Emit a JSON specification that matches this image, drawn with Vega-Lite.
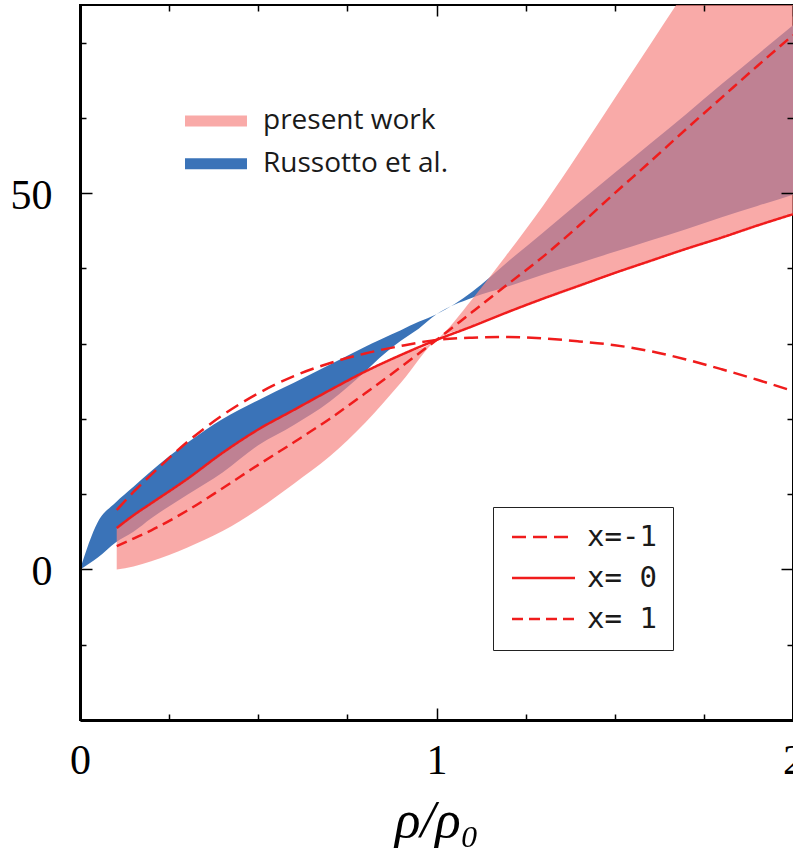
{
  "$schema": "https://vega.github.io/schema/vega-lite/v6.json",
  "width": 713,
  "height": 715,
  "autosize": {"type": "none"},
  "padding": {"left": 80, "top": 5, "right": 0, "bottom": 143},
  "background": "white",
  "config": {
    "view": {"stroke": "black", "strokeWidth": 2}
  },
  "datasets": {
    "russotto": [
      {"x": 0, "lo": 0, "hi": 0, "band": "Russotto et al."},
      {"x": 0.05, "lo": 1.6, "hi": 6.3, "band": "Russotto et al."},
      {"x": 0.1, "lo": 3.6, "hi": 8.9, "band": "Russotto et al."},
      {"x": 0.15, "lo": 5.0, "hi": 11.0, "band": "Russotto et al."},
      {"x": 0.2, "lo": 6.8, "hi": 13.1, "band": "Russotto et al."},
      {"x": 0.3, "lo": 9.9, "hi": 16.8, "band": "Russotto et al."},
      {"x": 0.4, "lo": 12.9, "hi": 20.0, "band": "Russotto et al."},
      {"x": 0.5, "lo": 16.5, "hi": 22.5, "band": "Russotto et al."},
      {"x": 0.6, "lo": 19.2, "hi": 24.8, "band": "Russotto et al."},
      {"x": 0.7, "lo": 22.3, "hi": 27.2, "band": "Russotto et al."},
      {"x": 0.8, "lo": 26.3, "hi": 29.6, "band": "Russotto et al."},
      {"x": 0.84, "lo": 28.1, "hi": 30.5, "band": "Russotto et al."},
      {"x": 0.9, "lo": 30.4, "hi": 31.8, "band": "Russotto et al."},
      {"x": 0.95, "lo": 32.0, "hi": 32.9, "band": "Russotto et al."},
      {"x": 1.0, "lo": 33.9, "hi": 33.9, "band": "Russotto et al."},
      {"x": 1.1, "lo": 36.1, "hi": 36.9, "band": "Russotto et al."},
      {"x": 1.2, "lo": 37.6, "hi": 40.9, "band": "Russotto et al."},
      {"x": 1.3, "lo": 39.2, "hi": 44.8, "band": "Russotto et al."},
      {"x": 1.4, "lo": 40.7, "hi": 48.8, "band": "Russotto et al."},
      {"x": 1.5, "lo": 42.2, "hi": 52.7, "band": "Russotto et al."},
      {"x": 1.6, "lo": 43.7, "hi": 56.6, "band": "Russotto et al."},
      {"x": 1.7, "lo": 45.2, "hi": 60.5, "band": "Russotto et al."},
      {"x": 1.8, "lo": 46.8, "hi": 64.5, "band": "Russotto et al."},
      {"x": 1.9, "lo": 48.3, "hi": 68.4, "band": "Russotto et al."},
      {"x": 2.0, "lo": 49.8, "hi": 72.3, "band": "Russotto et al."}
    ],
    "present": [
      {"x": 0.103, "lo": 0, "hi": 5.5, "band": "present work"},
      {"x": 0.15, "lo": 0.4, "hi": 7.2, "band": "present work"},
      {"x": 0.2, "lo": 1.1, "hi": 8.8, "band": "present work"},
      {"x": 0.3, "lo": 2.9, "hi": 12.0, "band": "present work"},
      {"x": 0.4, "lo": 5.1, "hi": 15.5, "band": "present work"},
      {"x": 0.5, "lo": 8.0, "hi": 18.6, "band": "present work"},
      {"x": 0.6, "lo": 11.4, "hi": 21.2, "band": "present work"},
      {"x": 0.7, "lo": 15.0, "hi": 23.8, "band": "present work"},
      {"x": 0.8, "lo": 19.5, "hi": 26.3, "band": "present work"},
      {"x": 0.9, "lo": 24.8, "hi": 28.5, "band": "present work"},
      {"x": 1.0, "lo": 30.5, "hi": 30.5, "band": "present work"},
      {"x": 1.1, "lo": 32.3, "hi": 35.9, "band": "present work"},
      {"x": 1.2, "lo": 34.2, "hi": 42.0, "band": "present work"},
      {"x": 1.3, "lo": 36.0, "hi": 48.4, "band": "present work"},
      {"x": 1.4, "lo": 37.7, "hi": 55.4, "band": "present work"},
      {"x": 1.5, "lo": 39.4, "hi": 62.6, "band": "present work"},
      {"x": 1.6, "lo": 41.0, "hi": 69.8, "band": "present work"},
      {"x": 1.7, "lo": 42.6, "hi": 77.0, "band": "present work"},
      {"x": 1.8, "lo": 44.1, "hi": 84.2, "band": "present work"},
      {"x": 1.9, "lo": 45.7, "hi": 91.4, "band": "present work"},
      {"x": 2.0, "lo": 47.2, "hi": 98.6, "band": "present work"}
    ],
    "curves": [
      {"x": 0.103, "y": 7.9, "c": "x=-1"},
      {"x": 0.15, "y": 10.3, "c": "x=-1"},
      {"x": 0.2, "y": 12.6, "c": "x=-1"},
      {"x": 0.3, "y": 16.9, "c": "x=-1"},
      {"x": 0.4, "y": 20.5, "c": "x=-1"},
      {"x": 0.5, "y": 23.4, "c": "x=-1"},
      {"x": 0.6, "y": 25.7, "c": "x=-1"},
      {"x": 0.7, "y": 27.4, "c": "x=-1"},
      {"x": 0.8, "y": 28.7, "c": "x=-1"},
      {"x": 0.9, "y": 29.7, "c": "x=-1"},
      {"x": 1.0, "y": 30.5, "c": "x=-1"},
      {"x": 1.1, "y": 30.8, "c": "x=-1"},
      {"x": 1.2, "y": 30.9, "c": "x=-1"},
      {"x": 1.3, "y": 30.7, "c": "x=-1"},
      {"x": 1.4, "y": 30.3, "c": "x=-1"},
      {"x": 1.5, "y": 29.8, "c": "x=-1"},
      {"x": 1.6, "y": 29.0, "c": "x=-1"},
      {"x": 1.7, "y": 27.9, "c": "x=-1"},
      {"x": 1.8, "y": 26.6, "c": "x=-1"},
      {"x": 1.9, "y": 25.2, "c": "x=-1"},
      {"x": 2.0, "y": 23.7, "c": "x=-1"},
      {"x": 0.103, "y": 5.5, "c": "x= 0"},
      {"x": 0.15, "y": 7.2, "c": "x= 0"},
      {"x": 0.2, "y": 8.8, "c": "x= 0"},
      {"x": 0.3, "y": 12.0, "c": "x= 0"},
      {"x": 0.4, "y": 15.5, "c": "x= 0"},
      {"x": 0.5, "y": 18.6, "c": "x= 0"},
      {"x": 0.6, "y": 21.2, "c": "x= 0"},
      {"x": 0.7, "y": 23.8, "c": "x= 0"},
      {"x": 0.8, "y": 26.3, "c": "x= 0"},
      {"x": 0.9, "y": 28.5, "c": "x= 0"},
      {"x": 1.0, "y": 30.5, "c": "x= 0"},
      {"x": 1.1, "y": 32.3, "c": "x= 0"},
      {"x": 1.2, "y": 34.2, "c": "x= 0"},
      {"x": 1.3, "y": 36.0, "c": "x= 0"},
      {"x": 1.4, "y": 37.7, "c": "x= 0"},
      {"x": 1.5, "y": 39.4, "c": "x= 0"},
      {"x": 1.6, "y": 41.0, "c": "x= 0"},
      {"x": 1.7, "y": 42.6, "c": "x= 0"},
      {"x": 1.8, "y": 44.1, "c": "x= 0"},
      {"x": 1.9, "y": 45.7, "c": "x= 0"},
      {"x": 2.0, "y": 47.2, "c": "x= 0"},
      {"x": 0.103, "y": 3.1, "c": "x= 1"},
      {"x": 0.15, "y": 4.1, "c": "x= 1"},
      {"x": 0.2, "y": 5.2, "c": "x= 1"},
      {"x": 0.3, "y": 7.8, "c": "x= 1"},
      {"x": 0.4, "y": 10.8, "c": "x= 1"},
      {"x": 0.5, "y": 13.9, "c": "x= 1"},
      {"x": 0.6, "y": 16.9, "c": "x= 1"},
      {"x": 0.7, "y": 20.0, "c": "x= 1"},
      {"x": 0.8, "y": 23.4, "c": "x= 1"},
      {"x": 0.9, "y": 26.9, "c": "x= 1"},
      {"x": 1.0, "y": 30.5, "c": "x= 1"},
      {"x": 1.1, "y": 34.2, "c": "x= 1"},
      {"x": 1.2, "y": 37.9, "c": "x= 1"},
      {"x": 1.3, "y": 41.6, "c": "x= 1"},
      {"x": 1.4, "y": 45.7, "c": "x= 1"},
      {"x": 1.5, "y": 50.0, "c": "x= 1"},
      {"x": 1.6, "y": 54.2, "c": "x= 1"},
      {"x": 1.7, "y": 58.5, "c": "x= 1"},
      {"x": 1.8, "y": 62.7, "c": "x= 1"},
      {"x": 1.9, "y": 66.9, "c": "x= 1"},
      {"x": 2.0, "y": 71.0, "c": "x= 1"}
    ]
  },
  "resolve": {
    "axis": {"x": "independent", "y": "independent"},
    "scale": {"fill": "independent"},
    "legend": {"fill": "independent"}
  },
  "layer": [
    {
      "data": {"name": "russotto"},
      "mark": {"type": "area", "interpolate": "monotone", "clip": true},
      "encoding": {
        "x": {
          "field": "x", "type": "quantitative",
          "scale": {"domain": [0, 2], "nice": false, "zero": false},
          "axis": {
            "orient": "bottom", "values": [0, 0.25, 0.5, 0.75, 1, 1.25, 1.5, 1.75, 2],
            "labelExpr": "datum.value === 0 ? '0' : datum.value === 1 ? '1' : datum.value === 2 ? '2' : ''",
            "tickColor": "black", "tickWidth": 1.5,
            "tickSize": {"condition": {"test": "datum.value % 1 === 0", "value": -12}, "value": -6},
            "domain": true, "domainWidth": 3, "domainColor": "black",
            "grid": false, "labelFlush": false, "labelOverlap": false, "labelBound": false,
            "labelFont": "Liberation Serif", "labelFontSize": 42, "labelColor": "black", "labelPadding": 32,
            "title": "ρ/ρ₀", "titleFont": "Liberation Serif", "titleFontSize": 53, "titleFontStyle": "italic",
            "titleFontWeight": "normal", "titleColor": "black", "titlePadding": 7, "zindex": 1
          }
        },
        "y": {
          "field": "lo", "type": "quantitative",
          "scale": {"domain": [-20, 75], "nice": false, "zero": false},
          "axis": {
            "orient": "left", "values": [-20, -10, 0, 10, 20, 30, 40, 50, 60, 70],
            "labelExpr": "datum.value === 0 ? '0' : datum.value === 50 ? '50' : ''",
            "tickColor": "black", "tickWidth": 1.5,
            "tickSize": {"condition": {"test": "datum.value % 50 === 0", "value": -12}, "value": -6},
            "domain": true, "domainWidth": 3, "domainColor": "black",
            "grid": false, "labelFlush": false, "labelOverlap": false, "labelBound": false,
            "labelFont": "Liberation Serif", "labelFontSize": 42, "labelColor": "black", "labelPadding": 40,
            "labelOffset": 2, "title": null, "zindex": 1
          }
        },
        "y2": {"field": "hi"},
        "fill": {
          "field": "band", "type": "nominal",
          "scale": {"domain": ["Russotto et al."], "range": ["#3a73b8"]},
          "legend": {
            "title": null, "orient": "none", "legendX": 105, "legendY": 144.7, "padding": 0,
            "symbolType": "M-2.214,-0.39L2.214,-0.39L2.214,0.39L-2.214,0.39Z", "symbolSize": 784,
            "symbolStrokeWidth": 0, "symbolOffset": 17, "symbolOpacity": 1,
            "labelFont": "Open Sans", "labelFontSize": 28, "labelColor": "#1a1a1a", "labelOffset": 33, "labelLimit": 400
          }
        }
      }
    },
    {
      "data": {"name": "present"},
      "mark": {"type": "area", "interpolate": "monotone", "clip": true, "opacity": 0.71},
      "encoding": {
        "x": {
          "field": "x", "type": "quantitative",
          "axis": {
            "orient": "top", "values": [0, 0.25, 0.5, 0.75, 1, 1.25, 1.5, 1.75, 2],
            "labels": false, "domain": false, "grid": false, "title": null,
            "tickColor": "black", "tickWidth": 1.5,
            "tickSize": {"condition": {"test": "datum.value % 1 === 0", "value": -11}, "value": -6},
            "zindex": 1
          }
        },
        "y": {
          "field": "lo", "type": "quantitative",
          "axis": {
            "orient": "right", "values": [-20, -10, 0, 10, 20, 30, 40, 50, 60, 70],
            "labels": false, "domain": false, "grid": false, "title": null,
            "tickColor": "black", "tickWidth": 1.5,
            "tickSize": {"condition": {"test": "datum.value % 50 === 0", "value": -12}, "value": -6},
            "zindex": 1
          }
        },
        "y2": {"field": "hi"},
        "fill": {
          "field": "band", "type": "nominal",
          "scale": {"domain": ["present work"], "range": ["#f78784"]},
          "legend": {
            "title": null, "orient": "none", "legendX": 105, "legendY": 102, "padding": 0,
            "symbolType": "M-2.214,-0.39L2.214,-0.39L2.214,0.39L-2.214,0.39Z", "symbolSize": 784,
            "symbolStrokeWidth": 0, "symbolOffset": 17, "symbolOpacity": 0.71,
            "labelFont": "Open Sans", "labelFontSize": 28, "labelColor": "#1a1a1a", "labelOffset": 33, "labelLimit": 400
          }
        }
      }
    },
    {
      "data": {"name": "curves"},
      "mark": {"type": "line", "interpolate": "monotone", "clip": true, "color": "#f01c1c", "strokeWidth": 2.5},
      "encoding": {
        "x": {"field": "x", "type": "quantitative", "axis": null},
        "y": {"field": "y", "type": "quantitative", "axis": null},
        "strokeDash": {
          "field": "c", "type": "nominal",
          "scale": {"domain": ["x=-1", "x= 0", "x= 1"], "range": [[14, 7], [1, 0], [11, 6]]},
          "legend": {
            "title": null, "orient": "none", "legendX": 413, "legendY": 502, "padding": 15.5,
            "strokeColor": "#222222", "fillColor": "white",
            "symbolType": "M-3,0L3,0", "symbolSize": 441, "symbolStrokeWidth": 2.5,
            "symbolStrokeColor": "#f01c1c", "symbolFillColor": "transparent", "symbolOffset": 20.5,
            "labelFont": "DejaVu Sans Mono", "labelFontSize": 29, "labelColor": "#1a1a1a",
            "labelOffset": 29, "rowPadding": 11
          }
        }
      }
    }
  ]
}
